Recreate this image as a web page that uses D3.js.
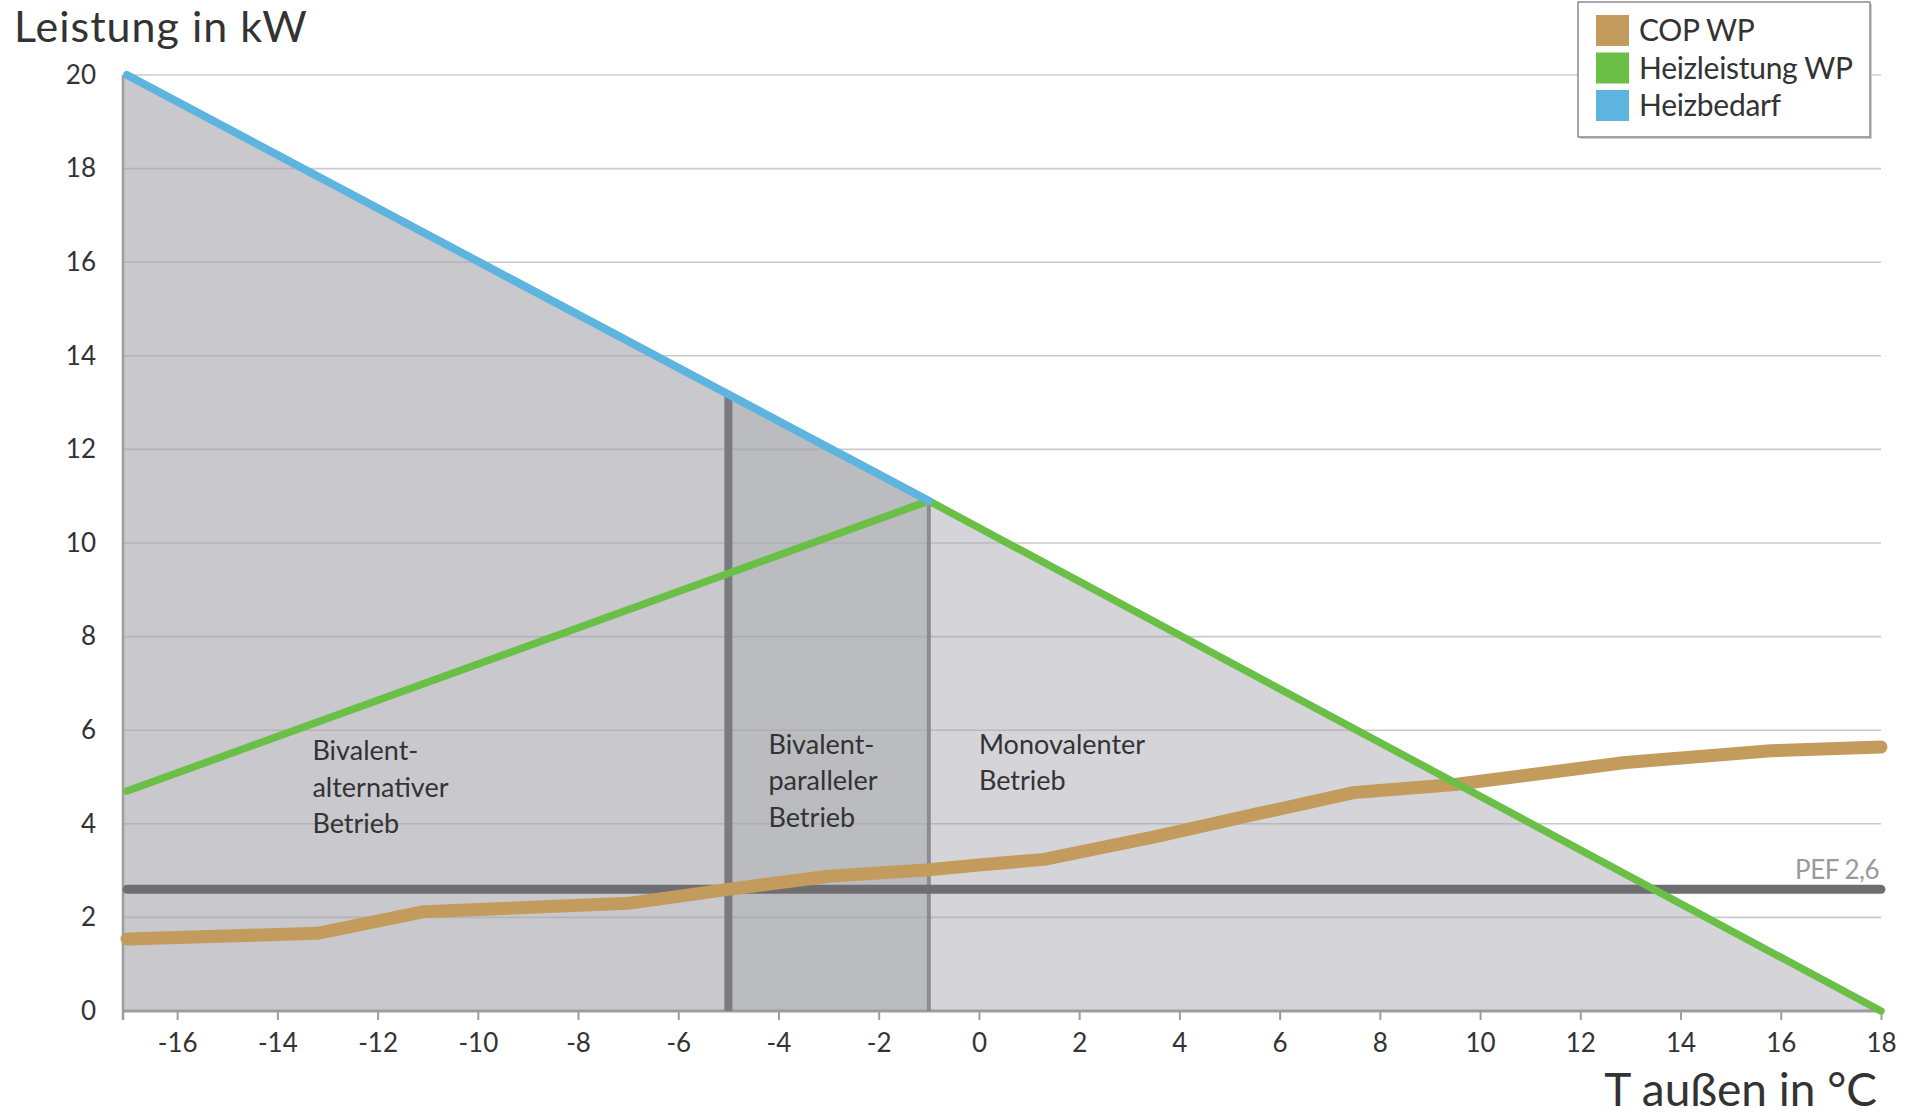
<!DOCTYPE html>
<html>
<head>
<meta charset="utf-8">
<script src="https://cdn.jsdelivr.net/npm/d3@7"></script>
<style>
  html, body { margin: 0; padding: 0; background: #ffffff; }
  svg { display: block; font-family: Lato, "Open Sans", sans-serif; }
</style>
</head>
<body>
<svg id="chart" width="1915" height="1118"></svg>
<script>
// ---------- data ----------
const xTicks = [-16, -14, -12, -10, -8, -6, -4, -2, 0, 2, 4, 6, 8, 10, 12, 14, 16, 18];
const yTicks = [0, 2, 4, 6, 8, 10, 12, 14, 16, 18, 20];

// Heizbedarf (blue)
const bedarfT = [-17, -1];
const bedarfP = [20, 10.9];

// Heizleistung WP (green)
const leistungT = [-17, -1, 18];
const leistungP = [4.7, 10.9, 0];

// COP WP (tan)
const copT = [-17, -13.2, -11.1, -7, -5, -3, -1, 0, 1.3, 3.5, 5.5, 7.5, 9.5, 12.9, 15.8, 18];
const copV = [1.54, 1.66, 2.12, 2.3, 2.6, 2.88, 3.02, 3.12, 3.24, 3.72, 4.2, 4.67, 4.84, 5.31, 5.56, 5.64];

// PEF reference line
const pefValue = 2.6;
const pefLabel = "PEF 2,6";

// Bivalence points (vertical lines)
const bivalentT = [-5, -1];

// Region labels
const regionNames = [
  ["Bivalent-", "alternativer", "Betrieb"],
  ["Bivalent-", "paralleler", "Betrieb"],
  ["Monovalenter", "Betrieb"]
];

const legendNames = ["COP WP", "Heizleistung WP", "Heizbedarf"];
const yTitle = "Leistung in kW";
const xTitle = "T außen in °C";

// ---------- styling ----------
const colors = {
  cop: "#c39c5d",
  leistung: "#6abf47",
  bedarf: "#5db4df",
  pef: "#6e6d72",
  fillLeft: "#c9c9cd",
  fillMid: "#babcbf",
  fillRight: "#d5d5d9",
  text: "#333333"
};

const svg = d3.select("#chart");
const x = d3.scaleLinear().domain([-17.08, 18]).range([123, 1881]);
const y = d3.scaleLinear().domain([0, 20]).range([1011, 75]);

// top boundary of the shaded demand triangle (blue until bivalence, then green)
const topT = [bedarfT[0], bedarfT[1], leistungT[2]];
const topP = [bedarfP[0], bedarfP[1], leistungP[2]];
function topAt(t) {
  if (t <= topT[0]) return topP[0];
  for (let i = 0; i < topT.length - 1; i++) {
    if (t <= topT[i + 1]) {
      const f = (t - topT[i]) / (topT[i + 1] - topT[i]);
      return topP[i] + f * (topP[i + 1] - topP[i]);
    }
  }
  return topP[topP.length - 1];
}
function regionPts(t0, t1) {
  const ts = [t0];
  topT.forEach(t => { if (t > t0 && t < t1) ts.push(t); });
  ts.push(t1);
  return ts.map(t => ({ t: t, v: Math.max(0, topAt(t)) }));
}
const area = d3.area().x(d => x(d.t)).y0(y(0)).y1(d => y(d.v));

const d0 = x.domain()[0];
const regions = [
  { pts: regionPts(d0, bivalentT[0]), c: colors.fillLeft },
  { pts: regionPts(bivalentT[0], bivalentT[1]), c: colors.fillMid },
  { pts: regionPts(bivalentT[1], 18), c: colors.fillRight }
];
svg.append("g").selectAll("path").data(regions).join("path")
  .attr("d", d => area(d.pts)).attr("fill", d => d.c);

// gridlines
svg.append("g").selectAll("line").data(yTicks.filter(v => v > 0)).join("line")
  .attr("x1", x(d0)).attr("x2", x(18))
  .attr("y1", d => y(d)).attr("y2", d => y(d))
  .attr("stroke", "#a6a6aa").attr("stroke-opacity", 0.6).attr("stroke-width", 1.6);

// axes lines
svg.append("line").attr("x1", x(d0)).attr("x2", x(18)).attr("y1", y(0)).attr("y2", y(0))
  .attr("stroke", "#9d9d9f").attr("stroke-width", 3);
svg.append("line").attr("x1", x(d0)).attr("x2", x(d0)).attr("y1", y(20)).attr("y2", y(0) + 9)
  .attr("stroke", "#9d9d9f").attr("stroke-width", 2.5);

// x axis ticks + labels
const xAxis = d3.axisBottom(x).tickValues(xTicks).tickSize(9).tickPadding(14)
  .tickFormat(d => d);
const gx = svg.append("g").attr("transform", `translate(0,${y(0)})`).call(xAxis);
gx.select(".domain").remove();
gx.selectAll(".tick line").attr("stroke", "#9d9d9f").attr("stroke-width", 2);
gx.selectAll(".tick text").attr("font-size", 26).attr("fill", colors.text)
  .attr("font-family", "Lato, sans-serif");

// y axis labels
const yAxis = d3.axisLeft(y).tickValues(yTicks).tickSize(0).tickPadding(27).tickFormat(d => d);
const gy = svg.append("g").attr("transform", `translate(${x(d0)},0)`).call(yAxis);
gy.select(".domain").remove();
gy.selectAll(".tick text").attr("font-size", 26).attr("fill", colors.text)
  .attr("font-family", "Lato, sans-serif");

// bivalence vertical lines
svg.append("g").selectAll("line").data(bivalentT).join("line")
  .attr("x1", d => x(d)).attr("x2", d => x(d))
  .attr("y1", y(0)).attr("y2", d => y(topAt(d)))
  .attr("stroke", (d, i) => i === 0 ? "#7b7b7f" : "#8c8c90")
  .attr("stroke-width", (d, i) => i === 0 ? 8 : 4);

// PEF line
svg.append("line")
  .attr("x1", x(-17)).attr("x2", x(18)).attr("y1", y(pefValue)).attr("y2", y(pefValue))
  .attr("stroke", colors.pef).attr("stroke-width", 9).attr("stroke-linecap", "round");
svg.append("text").attr("x", x(18) - 2).attr("y", y(pefValue) - 10)
  .attr("text-anchor", "end").attr("font-size", 26).attr("fill", "#9a9a9c")
  .attr("letter-spacing", -0.5).text(pefLabel);

const line = d3.line().x(d => x(d[0])).y(d => y(d[1]));

// COP
svg.append("path").attr("d", line(copT.map((t, i) => [t, copV[i]])))
  .attr("fill", "none").attr("stroke", colors.cop).attr("stroke-width", 13)
  .attr("stroke-linecap", "round").attr("stroke-linejoin", "round");

// Heizleistung WP
svg.append("path").attr("d", line(leistungT.map((t, i) => [t, leistungP[i]])))
  .attr("fill", "none").attr("stroke", colors.leistung).attr("stroke-width", 7.5)
  .attr("stroke-linecap", "round").attr("stroke-linejoin", "round");

// Heizbedarf
svg.append("path").attr("d", line(bedarfT.map((t, i) => [t, bedarfP[i]])))
  .attr("fill", "none").attr("stroke", colors.bedarf).attr("stroke-width", 8)
  .attr("stroke-linecap", "round");

// region labels
const regionAnchor = [-13.3, -4.2, 0.0];
const regionTop = [5.36, 5.5, 5.5];
regionNames.forEach((lines, i) => {
  const t = svg.append("text").attr("x", x(regionAnchor[i]))
    .attr("y", y(regionTop[i])).attr("font-size", 27).attr("fill", colors.text);
  lines.forEach((s, j) => t.append("tspan").attr("x", x(regionAnchor[i]))
    .attr("dy", j === 0 ? 0 : 36.5).text(s));
});

// titles
svg.append("text").attr("x", 14).attr("y", 42).attr("font-size", 43)
  .attr("letter-spacing", 1).attr("fill", colors.text).text(yTitle);
svg.append("text").attr("x", 1877).attr("y", 1106).attr("font-size", 46)
  .attr("text-anchor", "end").attr("fill", colors.text).text(xTitle);

// legend
const lg = svg.append("g").attr("transform", "translate(1578,2)");
lg.append("rect").attr("x", 2).attr("y", 2).attr("width", 292).attr("height", 135)
  .attr("fill", "#cfcfcf");
lg.append("rect").attr("width", 292).attr("height", 135)
  .attr("fill", "#ffffff").attr("stroke", "#8a8a8c").attr("stroke-width", 1.5);
const legendColors = [colors.cop, colors.leistung, colors.bedarf];
const items = lg.selectAll("g.item").data(legendNames).join("g").attr("class", "item")
  .attr("transform", (d, i) => `translate(18,${13 + i * 37.5})`);
items.append("rect").attr("width", 33).attr("height", 31)
  .attr("fill", (d, i) => legendColors[i]);
items.append("text").attr("x", 43).attr("y", 26).attr("font-size", 30)
  .attr("letter-spacing", -0.3).attr("fill", colors.text).text(d => d);
</script>
</body>
</html>
